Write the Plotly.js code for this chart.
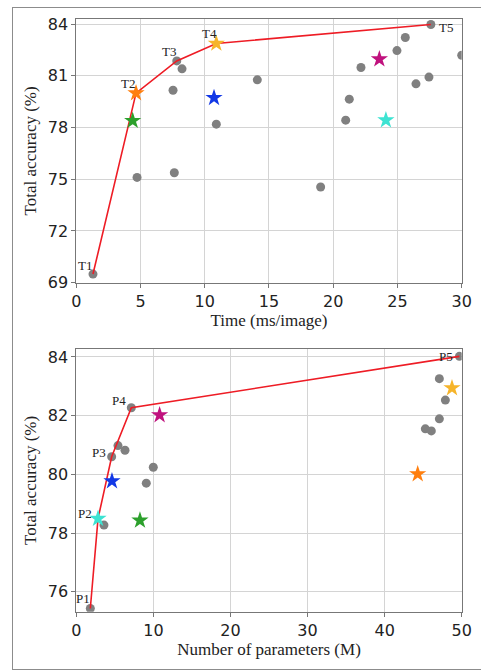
<!DOCTYPE html>
<html><head><meta charset="utf-8">
<script src="https://cdn.plot.ly/plotly-3.0.1.min.js"></script>
<style>
html,body{margin:0;padding:0;background:#fff;overflow:hidden}
#chart{width:481px;height:670px}
#frame{position:absolute;left:12px;top:7px;width:520px;height:661px;border:1px solid #8c8c8c;border-right:none;pointer-events:none}
</style></head>
<body><div id="chart"></div><div id="frame"></div>
<script>
// ---- Data: Time plot ----
const timeGrayX = [1.3, 7.82, 8.23, 7.53, 10.9, 14.09, 4.73, 7.63, 19.02, 20.97, 21.25, 22.16, 24.96, 25.61, 26.44, 27.45, 27.6, 30.0];
const timeGrayY = [69.5, 81.87, 81.41, 80.17, 78.2, 80.77, 75.11, 75.38, 74.55, 78.43, 79.65, 81.49, 82.47, 83.23, 80.54, 80.93, 83.98, 82.2];
const timeStarX = [4.65, 4.39, 10.9, 10.72, 23.59, 24.1];
const timeStarY = [80.0, 78.4, 82.88, 79.73, 81.97, 78.43];
const timeFrontLabels = ['T1', 'T2', 'T3', 'T4', 'T5'];
const timeFrontX = [1.3, 4.65, 7.82, 10.9, 27.6];
const timeFrontY = [69.5, 80.0, 81.87, 82.88, 83.98];
const timeTicksX = [0, 5, 10, 15, 20, 25, 30];
const timeTicksY = [69, 72, 75, 78, 81, 84];

// ---- Data: Parameters plot ----
const paramGrayX = [1.82, 3.59, 4.59, 5.41, 6.32, 7.14, 9.99, 9.08, 45.28, 46.06, 47.1, 47.88, 47.1, 49.7];
const paramGrayY = [75.43, 78.27, 80.6, 80.98, 80.82, 82.27, 80.24, 79.7, 81.55, 81.48, 81.89, 82.53, 83.26, 84.02];
const paramStarX = [44.29, 8.26, 48.74, 4.63, 10.81, 2.82];
const paramStarY = [80.01, 78.43, 82.94, 79.77, 82.02, 78.49];
const paramFrontLabels = ['P1', 'P2', 'P3', 'P4', 'P5'];
const paramFrontX = [1.82, 2.82, 4.59, 7.14, 49.7];
const paramFrontY = [75.43, 78.49, 80.6, 82.27, 84.02];
const paramTicksX = [0, 10, 20, 30, 40, 50];
const paramTicksY = [76, 78, 80, 82, 84];

// ---- Styles ----
const starColors = ['#ff7f0e', '#2ca02c', '#f6b42a', '#1238e6', '#c0127e', '#3de3d2'];
const timeLabelShift = [[-8, 9], [-8, 10], [-8, 9], [-7, 10], [15, -3]];
const paramLabelShift = [[-7, 10], [-13, 5], [-13, 4], [-12, 7], [-13, 0]];
const grayColor = '#808080';
const lineColor = '#ee1c25';

function traces(gx, gy, fx, fy, sx, sy, xa, ya) {
  return [
    {x: gx, y: gy, xaxis: xa, yaxis: ya, type: 'scatter', mode: 'markers',
     marker: {color: grayColor, size: 9}, hoverinfo: 'none'},
    {x: fx, y: fy, xaxis: xa, yaxis: ya, type: 'scatter', mode: 'lines',
     line: {color: lineColor, width: 1.6}, hoverinfo: 'none'},
    {x: sx, y: sy, xaxis: xa, yaxis: ya, type: 'scatter', mode: 'markers',
     marker: {symbol: 'star', color: starColors, size: 13, line: {width: 0}}, hoverinfo: 'none'}
  ];
}

const data = [].concat(
  traces(timeGrayX, timeGrayY, timeFrontX, timeFrontY, timeStarX, timeStarY, 'x', 'y'),
  traces(paramGrayX, paramGrayY, paramFrontX, paramFrontY, paramStarX, paramStarY, 'x2', 'y2')
);

const annotations = [];
timeFrontLabels.forEach((t, i) => annotations.push({
  x: timeFrontX[i], y: timeFrontY[i], xref: 'x', yref: 'y', text: t, showarrow: false,
  xanchor: 'center', yanchor: 'middle', xshift: timeLabelShift[i][0], yshift: timeLabelShift[i][1],
  font: {family: 'Liberation Serif, serif', size: 13, color: '#222'}
}));
paramFrontLabels.forEach((t, i) => annotations.push({
  x: paramFrontX[i], y: paramFrontY[i], xref: 'x2', yref: 'y2', text: t, showarrow: false,
  xanchor: 'center', yanchor: 'middle', xshift: paramLabelShift[i][0], yshift: paramLabelShift[i][1],
  font: {family: 'Liberation Serif, serif', size: 13, color: '#222'}
}));

const tickFont = {family: 'DejaVu Sans, sans-serif', size: 16, color: '#222'};
const titleFont = {family: 'Liberation Serif, serif', size: 17, color: '#222'};
const axisCommon = {
  showline: true, mirror: true, linecolor: '#777', linewidth: 1,
  showgrid: true, gridcolor: '#d4d4d4', gridwidth: 1, zeroline: false,
  ticks: 'outside', ticklen: 4, tickcolor: '#777', tickfont: tickFont,
  automargin: false, fixedrange: true
};

const layout = {
  width: 481, height: 670,
  margin: {l: 0, r: 0, t: 0, b: 0},
  paper_bgcolor: '#fff', plot_bgcolor: '#fff',
  showlegend: false,
  xaxis: Object.assign({}, axisCommon, {domain: [0.1586, 0.9599], range: [0, 30],
    tickvals: timeTicksX, anchor: 'y',
    title: {text: 'Time (ms/image)', font: titleFont, standoff: 4}}),
  yaxis: Object.assign({}, axisCommon, {domain: [0.5781, 0.9716], range: [69, 84.3],
    tickvals: timeTicksY, anchor: 'x',
    title: {text: 'Total accuracy (%)', font: titleFont, standoff: 6}}),
  xaxis2: Object.assign({}, axisCommon, {domain: [0.1586, 0.9599], range: [0, 50],
    tickvals: paramTicksX, anchor: 'y2',
    title: {text: 'Number of parameters (M)', font: titleFont, standoff: 4}}),
  yaxis2: Object.assign({}, axisCommon, {domain: [0.0870, 0.4791], range: [75.32, 84.27],
    tickvals: paramTicksY, anchor: 'x2',
    title: {text: 'Total accuracy (%)', font: titleFont, standoff: 6}}),
  annotations: annotations
};

Plotly.newPlot('chart', data, layout, {displayModeBar: false, staticPlot: true});
</script></body></html>
